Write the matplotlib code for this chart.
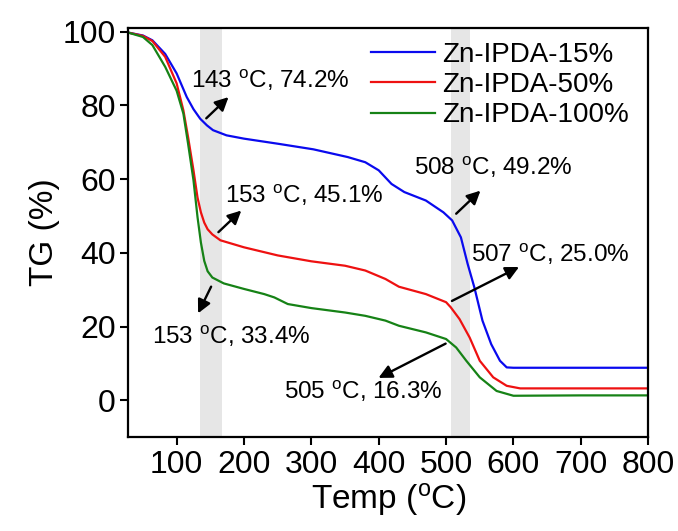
import matplotlib
matplotlib.use("Agg")
import matplotlib.pyplot as plt

plt.rcParams['font.family'] = ['Liberation Sans', 'DejaVu Sans']
plt.rcParams['mathtext.default'] = 'regular'

# curves (temperature in degC, TG in %)
temp_15 = [28, 50, 64, 83, 100, 115, 125, 135, 145, 154, 174, 200, 251, 303, 354, 380,
           400, 419, 438, 470, 496, 509, 522, 532, 542, 554, 567, 580, 590, 600, 700, 800]
tg_15 = [99.8, 99.0, 97.7, 94.0, 88.7, 82.3, 79.0, 76.4, 74.6, 73.3, 71.9, 71.0, 69.6, 68.1,
         66.0, 64.6, 62.4, 58.7, 56.5, 54.2, 51.0, 48.8, 44.2, 37.0, 30.6, 21.6, 15.2, 10.7,
         8.9, 8.8, 8.8, 8.8]

temp_50 = [28, 50, 64, 83, 100, 110, 117, 125, 131, 136, 141, 146, 153, 165, 200, 250, 300,
           350, 380, 410, 430, 470, 500, 507, 520, 535, 550, 570, 590, 610, 700, 800]
tg_50 = [99.8, 98.9, 97.5, 93.2, 86.0, 78.7, 71.4, 62.4, 55.0, 51.0, 48.2, 46.4, 45.0, 43.4,
         41.5, 39.3, 37.7, 36.5, 35.2, 32.9, 30.8, 28.8, 26.6, 25.2, 22.0, 17.0, 10.7, 6.2,
         3.9, 3.2, 3.2, 3.2]

temp_100 = [28, 50, 64, 83, 100, 110, 117, 125, 131, 136, 141, 146, 153, 170, 200, 230, 245,
            265, 300, 350, 380, 410, 430, 470, 500, 515, 530, 550, 575, 600, 700, 800]
tg_100 = [99.8, 98.6, 96.4, 90.5, 84.0, 77.8, 69.6, 59.7, 49.7, 42.8, 37.8, 35.0, 33.3, 31.7,
          30.2, 28.8, 27.9, 26.1, 25.0, 23.8, 22.9, 21.6, 20.2, 18.4, 16.6, 14.3, 10.7, 6.2,
          2.5, 1.2, 1.3, 1.3]

series = [("Zn-IPDA-15%", temp_15, tg_15, "#0a0aee"),
          ("Zn-IPDA-50%", temp_50, tg_50, "#ee1111"),
          ("Zn-IPDA-100%", temp_100, tg_100, "#168216")]

bands = [(135, 167), (507, 535)]

# (label, arrow tail, arrow head, text position)
notes = [("143 $^{o}$C, 74.2%", (141, 76.0), (180, 82.8), (122, 86.9)),
         ("153 $^{o}$C, 45.1%", (159, 45.1), (199, 52.0), (172, 55.6)),
         ("153 $^{o}$C, 33.4%", (153, 31.5), (130, 22.9), (64, 17.2)),
         ("508 $^{o}$C, 49.2%", (512, 50.1), (554, 57.4), (452, 63.3)),
         ("507 $^{o}$C, 25.0%", (505, 26.6), (612, 36.5), (537, 39.5)),
         ("505 $^{o}$C, 16.3%", (503, 15.7), (396, 5.7), (259, 2.5))]

fig = plt.figure(figsize=(6.78, 5.31), dpi=100)
ax = fig.add_axes([0.189, 0.177, 0.767, 0.77])

for lo, hi in bands:
    ax.axvspan(lo, hi, color="#e6e6e6", lw=0, zorder=0)

for name, t, v, c in series:
    ax.plot(t, v, color=c, lw=1.6, label=name, zorder=2)

for txt, tail, head, pos in notes:
    ax.annotate("", xy=head, xytext=tail,
                arrowprops=dict(arrowstyle="-|>", color="black", lw=1.7, mutation_scale=20))
    ax.text(pos[0], pos[1], txt, fontsize=17.5, ha="left", va="center")

ax.set_xlim(28, 800)
ax.set_ylim(-10, 101)
ax.set_xticks(range(100, 801, 100))
ax.set_yticks(range(0, 101, 20))
ax.tick_params(labelsize=23, width=1.5, length=6, direction="out", pad=3)
for s in ax.spines.values():
    s.set_linewidth(1.6)

ax.set_xlabel("Temp ($^{o}$C)", fontsize=24, labelpad=1)
ax.set_ylabel("TG (%)", fontsize=24, labelpad=2)

leg = ax.legend(loc="upper right", frameon=False, fontsize=20, handlelength=2.3,
                handletextpad=0.25, labelspacing=0.15, borderaxespad=0.1,
                bbox_to_anchor=(0.99, 1.0))

fig.savefig("out.png", dpi=100)
